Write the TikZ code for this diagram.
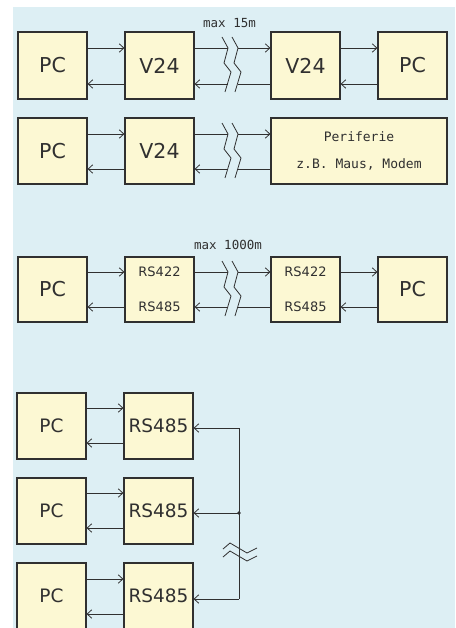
\documentclass[tikz,border=0pt]{standalone}
\usepackage{fontspec}
\setmainfont{DejaVu Sans}
\newfontfamily\monof{DejaVu Sans Mono}
\usetikzlibrary{arrows.meta}
\definecolor{bgblue}{HTML}{DDEFF4}
\definecolor{boxfill}{HTML}{FCF8D3}
\definecolor{ink}{HTML}{303030}
\begin{document}
\begin{tikzpicture}[x=1pt,y=-1pt,
  box/.style={draw=ink,fill=boxfill,line width=1.3pt,inner sep=0pt,text=ink,
    minimum width=69pt,minimum height=67pt},
  bigtxt/.style={font=\fontsize{20.5}{20.5}\selectfont},
  midtxt/.style={font=\fontsize{18.5}{18.5}\selectfont},
  pairtxt/.style={font=\fontsize{13}{35}\selectfont,align=center},
  monotxt/.style={font=\monof\fontsize{12.5}{12.5}\selectfont,text=ink},
  conn/.style={draw=ink,line width=0.8pt},
  arr/.style={conn,-{Straight Barb[length=4.5pt,width=8.5pt]}},
  brk/.pic={
    \draw[conn] (0,0)--(6,11)--(2,26)--(9,35)--(3,55);
    \draw[conn] (10,0)--(16,11)--(12,26)--(19,35)--(13,55);
  }
]
\useasboundingbox (0,0) rectangle (455,628);
\clip (0,0) rectangle (455,628);
\fill[white] (0,0) rectangle (455,628);
\fill[bgblue] (13,7) rectangle (455,628);

% ---------- Row 1 ----------
\node[box,bigtxt] (pc1) at (52.5,65.5) {PC};
\node[box,bigtxt] (v1) at (159.5,65.5) {V24};
\node[box,bigtxt] (v2) at (305.5,65.5) {V24};
\node[box,bigtxt] (pc2) at (412.5,65.5) {PC};
\node[monotxt] (l15) at (229.5,23) {max 15m};
\pic at (222,37) {brk};
\coordinate (a1) at (228,48); \coordinate (b1) at (238,48);
\coordinate (a2) at (228,84); \coordinate (b2) at (238,84);
\draw[arr] (pc1.east |- a1) -- (v1.west |- a1);
\draw[arr] (v1.west |- a2) -- (pc1.east |- a2);
\draw[conn] (v1.east |- a1) -- (a1);
\draw[arr] (b1) -- (v2.west |- b1);
\draw[conn] (v2.west |- b2) -- (b2);
\draw[arr] (a2) -- (v1.east |- a2);
\draw[arr] (v2.east |- a1) -- (pc2.west |- a1);
\draw[arr] (pc2.west |- a2) -- (v2.east |- a2);

% ---------- Row 2 ----------
\node[box,bigtxt,minimum height=66pt] (pc3) at (52.5,151) {PC};
\node[box,bigtxt,minimum height=66pt] (v3) at (159.5,151) {V24};
\node[box,minimum width=176pt,minimum height=66pt,align=center,
  font=\monof\fontsize{13}{27}\selectfont] (per) at (359,151)
  {Periferie\\z.B. Maus, Modem};
\pic at (222,123) {brk};
\coordinate (a3) at (228,134); \coordinate (b3) at (238,134);
\coordinate (a4) at (228,169); \coordinate (b4) at (238,169);
\draw[arr] (pc3.east |- a3) -- (v3.west |- a3);
\draw[arr] (v3.west |- a4) -- (pc3.east |- a4);
\draw[conn] (v3.east |- a3) -- (a3);
\draw[arr] (b3) -- (per.west |- b3);
\draw[conn] (per.west |- b4) -- (b4);
\draw[arr] (a4) -- (v3.east |- a4);

% ---------- Row 3 ----------
\node[box,bigtxt,minimum height=65pt] (pc4) at (52.5,289.5) {PC};
\node[box,pairtxt,minimum height=65pt] (r1) at (159.5,289.5) {RS422\\RS485};
\node[box,pairtxt,minimum height=65pt] (r2) at (305.5,289.5) {RS422\\RS485};
\node[box,bigtxt,minimum height=65pt] (pc5) at (412.5,289.5) {PC};
\node[monotxt] (l1000) at (228,245) {max 1000m};
\pic at (222,261) {brk};
\coordinate (a5) at (228,272); \coordinate (b5) at (238,272);
\coordinate (a6) at (228,307); \coordinate (b6) at (238,307);
\draw[arr] (pc4.east |- a5) -- (r1.west |- a5);
\draw[arr] (r1.west |- a6) -- (pc4.east |- a6);
\draw[conn] (r1.east |- a5) -- (a5);
\draw[arr] (b5) -- (r2.west |- b5);
\draw[conn] (r2.west |- b6) -- (b6);
\draw[arr] (a6) -- (r1.east |- a6);
\draw[arr] (r2.east |- a5) -- (pc5.west |- a5);
\draw[arr] (pc5.west |- a6) -- (r2.east |- a6);

% ---------- Row 4 (bus) ----------
\node[box,midtxt,minimum height=66pt] (pc6) at (51.5,426) {PC};
\node[box,midtxt,minimum height=66pt] (s1) at (158.5,426) {RS485};
\node[box,midtxt,minimum height=66pt] (pc7) at (51.5,511) {PC};
\node[box,midtxt,minimum height=66pt] (s2) at (158.5,511) {RS485};
\node[box,midtxt,minimum height=66pt] (pc8) at (51.5,596) {PC};
\node[box,midtxt,minimum height=66pt] (s3) at (158.5,596) {RS485};

\coordinate (c1) at (0,408); \coordinate (d1) at (0,443);
\coordinate (c2) at (0,493); \coordinate (d2) at (0,528);
\coordinate (c3) at (0,579); \coordinate (d3) at (0,614);
\draw[arr] (pc6.east |- c1) -- (s1.west |- c1);
\draw[arr] (s1.west |- d1) -- (pc6.east |- d1);
\draw[arr] (pc7.east |- c2) -- (s2.west |- c2);
\draw[arr] (s2.west |- d2) -- (pc7.east |- d2);
\draw[arr] (pc8.east |- c3) -- (s3.west |- c3);
\draw[arr] (s3.west |- d3) -- (pc8.east |- d3);

\coordinate (j1) at (239,428);
\coordinate (j2) at (239,513);
\coordinate (j3) at (239,599);
\draw[conn] (j1) -- (j3);
\draw[arr] (j1) -- (s1.east |- j1);
\draw[arr] (j2) -- (s2.east |- j2);
\draw[arr] (j3) -- (s3.east |- j3);
\fill[ink] (j2) circle (1.8pt);
\draw[conn] (223,549) -- (230,543) -- (247,553) -- (257,548);
\draw[conn] (223,557) -- (230,551) -- (247,561) -- (257,556);
\end{tikzpicture}
\end{document}
